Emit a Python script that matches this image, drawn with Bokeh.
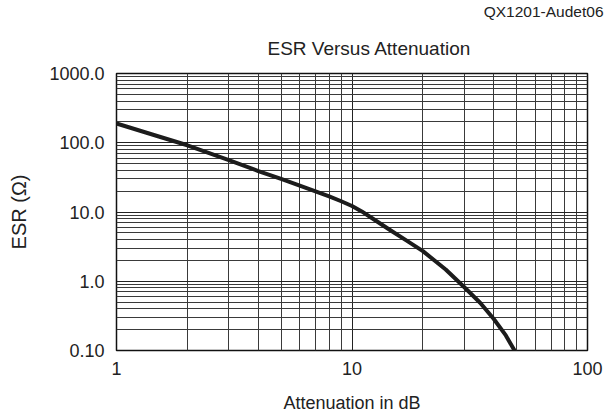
from bokeh.plotting import figure
from bokeh.models import FixedTicker, CustomJSTickFormatter, Title, Range1d
from bokeh.embed import file_html
from bokeh.resources import INLINE

# Data
attenuation_db = [1, 1.5, 2, 3, 4, 5, 6, 7, 8, 9, 10, 11, 12, 14.5, 17, 20, 25, 30, 35, 40, 45, 49]
esr_ohm = [190, 124, 92, 56, 39, 30, 24, 19.8, 16.8, 14.3, 12.2, 10.2, 8.4, 5.5, 3.9, 2.72, 1.48, 0.82, 0.49, 0.285, 0.165, 0.1]

x_ticks = [1, 10, 100]
x_tick_labels = ["1", "10", "100"]
y_ticks = [0.1, 1, 10, 100, 1000]
y_tick_labels = ["0.10", "1.0", "10.0", "100.0", "1000.0"]

title_text = "ESR Versus Attenuation"
figure_id = "QX1201-Audet06"
x_label = "Attenuation in dB"
y_label = "ESR (\u03a9)"

FONT = "Liberation Sans"

def minor_list(majors):
    out = []
    for m in majors[:-1]:
        out += [m * k for k in range(2, 10)]
    return out

p = figure(width=604, height=416, x_axis_type="log", y_axis_type="log",
           x_range=Range1d(1, 100), y_range=Range1d(0.1, 1000),
           output_backend="svg", toolbar_location=None,
           min_border_left=116, min_border_right=17, min_border_top=73, min_border_bottom=66,
           title=None)

p.add_layout(Title(text=title_text, align="left", text_font=FONT, text_font_size="19px",
                   text_font_style="normal", text_color="#222222", standoff=30, offset=151), "above")
p.add_layout(Title(text=figure_id, align="right", text_font=FONT, text_font_size="15.5px",
                   text_font_style="normal", text_color="#222222", standoff=1, offset=-16), "above")

p.line(attenuation_db, esr_ohm, line_width=4, line_color="#1c1c1c", line_cap="round", line_join="round")

p.xaxis.ticker = FixedTicker(ticks=x_ticks, minor_ticks=minor_list(x_ticks))
p.yaxis.ticker = FixedTicker(ticks=y_ticks, minor_ticks=minor_list(y_ticks))

fmt_code = """
let best = 0; let bd = 1e9;
for (let i = 0; i < tvals.length; i++) {
  const d = Math.abs(Math.log10(tvals[i]) - Math.log10(tick));
  if (d < bd) { bd = d; best = i; }
}
return tlabels[best];
"""
p.xaxis.formatter = CustomJSTickFormatter(args=dict(tvals=x_ticks, tlabels=x_tick_labels), code=fmt_code)
p.yaxis.formatter = CustomJSTickFormatter(args=dict(tvals=y_ticks, tlabels=y_tick_labels), code=fmt_code)

for ax in (p.xaxis, p.yaxis):
    ax.axis_line_color = None
    ax.major_tick_line_color = None
    ax.minor_tick_line_color = None
    ax.major_label_text_font = FONT
    ax.major_label_text_font_size = "18px"
    ax.major_label_text_color = "#222222"
    ax.axis_label_text_font = FONT
    ax.axis_label_text_font_style = "normal"
    ax.axis_label_text_color = "#222222"

p.xaxis.axis_label = x_label
p.xaxis.axis_label_text_font_size = "18px"
p.xaxis.major_label_standoff = 5
p.xaxis.axis_label_standoff = 15

p.yaxis.axis_label = y_label
p.yaxis.axis_label_text_font_size = "20px"
p.yaxis.major_label_standoff = 6
p.yaxis.axis_label_standoff = 16

for g in (p.xgrid, p.ygrid):
    g.grid_line_color = "#222222"
    g.grid_line_alpha = 1
    g.grid_line_width = 1
    g.minor_grid_line_color = "#3a3a3a"
    g.minor_grid_line_alpha = 1
    g.minor_grid_line_width = 1

p.outline_line_color = "#111111"
p.outline_line_width = 1.5
p.outline_line_alpha = 1
p.background_fill_color = "white"
p.border_fill_color = "white"

open("out.html", "w").write(file_html(p, INLINE))
